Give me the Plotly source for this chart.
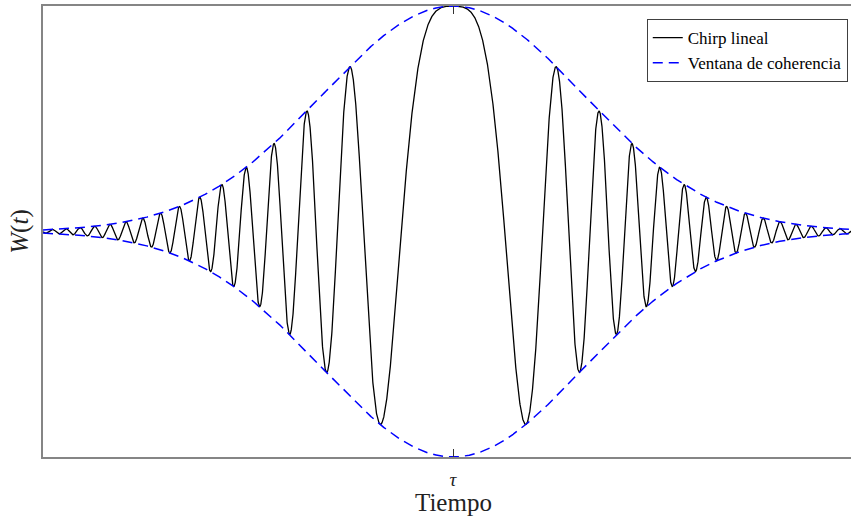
import numpy as np
import plotly.graph_objects as go

# Model parameters for the linearly chirped pulse under a Gaussian coherence window
TAU = 0.0            # pulse centre
SIGMA = 1.0          # window width
CHIRP_RATE = 10.0    # quadratic phase coefficient
T_SPAN = np.pi       # half-width of the time interval

x_tick_vals = [TAU]
x_tick_text = ["<i>τ</i>"]
series_names = ["Chirp lineal", "Ventana de coherencia"]
x_title = "Tiempo"

t = np.linspace(TAU - T_SPAN, TAU + T_SPAN, 6001)
window = np.exp(-((t - TAU) ** 2) / (2 * SIGMA ** 2))
chirp = window * np.cos(CHIRP_RATE * (t - TAU) ** 2)

serif = "Liberation Serif"
x_range = [TAU - T_SPAN, TAU - T_SPAN + 808 / 820 * 2 * T_SPAN]

fig = go.Figure()
fig.add_trace(go.Scatter(
    x=t, y=chirp, mode="lines", name=series_names[0],
    line=dict(color="black", width=1.3),
))
# upper and lower envelope in one trace, separated by a gap
env_x = np.concatenate([t, [None], t])
env_y = np.concatenate([window, [None], -window])
fig.add_trace(go.Scatter(
    x=env_x, y=env_y, mode="lines", name=series_names[1],
    line=dict(color="#0000ff", width=1.5, dash="10px,6px"),
    connectgaps=False,
))

axis_color = "#858585"
fig.update_layout(
    width=851, height=517,
    margin=dict(l=43, r=0, t=6, b=60),
    plot_bgcolor="white", paper_bgcolor="white",
    font=dict(family=serif, color="black"),
    showlegend=True,
    legend=dict(
        x=0.996, y=0.971, xanchor="right", yanchor="top",
        bgcolor="white", bordercolor="#404040", borderwidth=1,
        font=dict(family=serif, size=17, color="black"),
        tracegroupgap=0, itemwidth=30,
    ),
    xaxis=dict(
        range=x_range,
        showgrid=False, zeroline=False,
        showline=True, linecolor=axis_color, linewidth=1.5, mirror="ticks",
        ticks="inside", ticklen=8, tickcolor="#333333", tickwidth=1,
        tickvals=x_tick_vals, ticktext=x_tick_text,
        ticklabelstandoff=4,
        tickfont=dict(family=serif, size=19, color="#222222"),
    ),
    yaxis=dict(
        range=[-1, 1],
        showgrid=False, zeroline=False,
        showline=True, linecolor=axis_color, linewidth=1.5, mirror=False,
        ticks="", showticklabels=False,
        title=dict(text="<i>W</i>(<i>t</i>)", font=dict(family=serif, size=25, color="#222222"), standoff=6),
    ),
)

# x-axis title placed just below the tick label
fig.add_annotation(
    text=x_title, xref="x", yref="paper", x=TAU, y=-0.1,
    xanchor="center", yanchor="middle", showarrow=False, borderpad=0,
    font=dict(family=serif, size=25, color="#222222"),
)

fig.write_html("out.html")
